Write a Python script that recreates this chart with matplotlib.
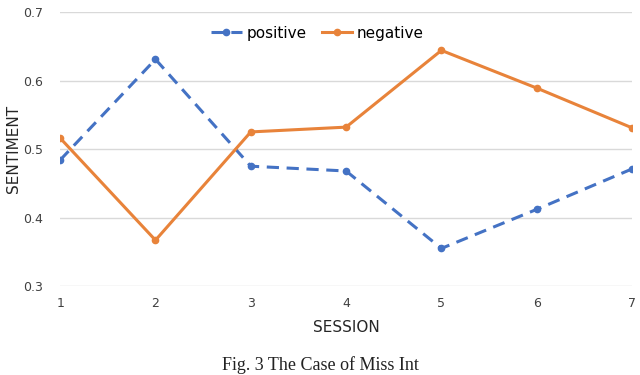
import matplotlib
matplotlib.use("Agg")
import matplotlib.pyplot as plt

sessions = [1, 2, 3, 4, 5, 6, 7]
positive = [0.484, 0.631, 0.475, 0.468, 0.355, 0.412, 0.471]
negative = [0.516, 0.367, 0.525, 0.532, 0.644, 0.589, 0.531]
yticks = [0.3, 0.4, 0.5, 0.6, 0.7]

blue = "#4472C4"
orange = "#E8833A"

fig = plt.figure(figsize=(6.4, 3.75), dpi=100)
ax = fig.add_axes([0.094, 0.237, 0.8935, 0.731])

ax.plot(sessions, positive, color=blue, lw=2.2, ls=(0, (4, 2.5)), marker="o", ms=4.5, label="positive")
ax.plot(sessions, negative, color=orange, lw=2.2, marker="o", ms=4.5, label="negative")

ax.set_xlim(1, 7)
ax.set_ylim(0.3, 0.7)
ax.set_yticks(yticks)
ax.set_yticklabels(["%.1f" % v for v in yticks])
ax.set_xticks(sessions)
ax.grid(axis="y", color="#D9D9D9", lw=1)
ax.set_axisbelow(True)
for s in ax.spines.values():
    s.set_visible(False)
ax.tick_params(length=0, labelsize=9, colors="#404040", pad=8)
ax.tick_params(axis="y", pad=12)

ax.set_xlabel("SESSION", fontsize=11, color="#262626", labelpad=7)
ax.set_ylabel("SENTIMENT", fontsize=11, color="#262626", labelpad=2)

ax.legend(loc="upper center", bbox_to_anchor=(0.45, 1.0), ncol=2, frameon=False,
          fontsize=11, handlelength=2.0, columnspacing=1.0, handletextpad=0.3)

fig.text(0.5, 0.004, "Fig. 3 The Case of Miss Int", ha="center", va="bottom",
         fontsize=13, family="Liberation Serif", color="#222222")

fig.savefig("out.png", dpi=100)
